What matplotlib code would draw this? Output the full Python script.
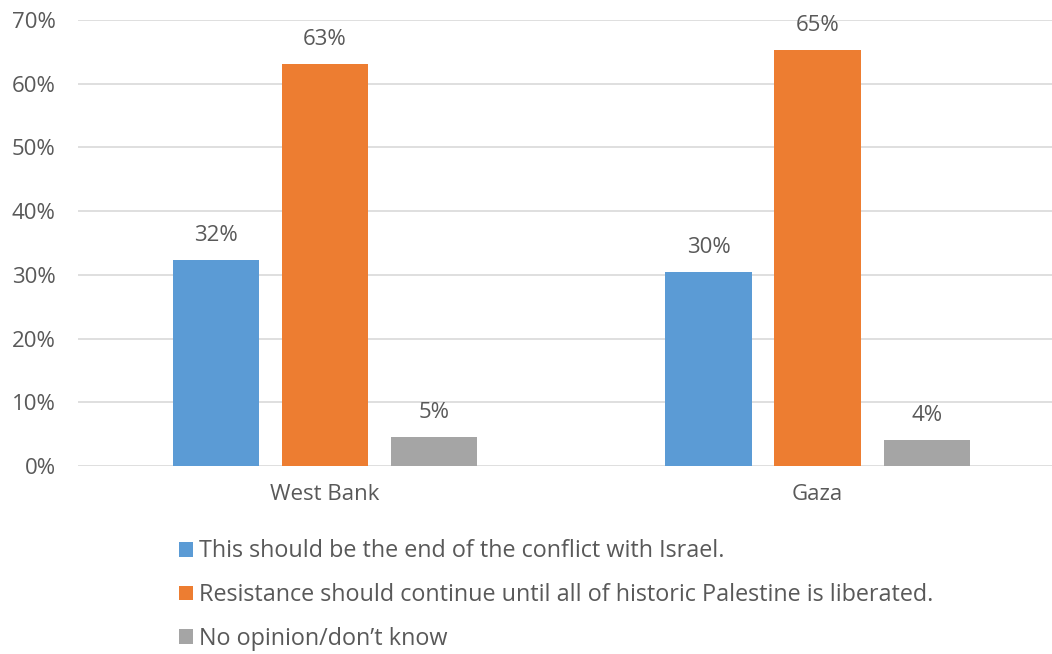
import numpy as np
import matplotlib.pyplot as plt
from matplotlib.patches import Patch

# values (percent)
regions = ["West Bank", "Gaza"]
series_names = [
    "This should be the end of the conflict with Israel.",
    "Resistance should continue until all of historic Palestine is liberated.",
    "No opinion/don\u2019t know",
]
end_conflict = [32.3, 30.4]
resistance = [63.1, 65.3]
no_opinion = [4.6, 4.1]
colors = ["#5B9BD5", "#ED7D31", "#A5A5A5"]

text_col = "#595959"
plt.rcParams["font.family"] = ["Open Sans", "DejaVu Sans"]

fig = plt.figure(figsize=(10.52, 6.54), dpi=100)
ax = fig.add_axes([78 / 1052, 188 / 654, (1052 - 78) / 1052, 446 / 654])

x = np.arange(len(regions))
width = 0.175
step = 0.2215
for i, (vals, col) in enumerate(zip([end_conflict, resistance, no_opinion], colors)):
    pos = x + (i - 1) * step
    ax.bar(pos, vals, width=width, color=col, zorder=3)
    for px, v in zip(pos, vals):
        ax.annotate(f"{v:.0f}%", (px, v), xytext=(0, 10), textcoords="offset points",
                    ha="center", va="bottom", fontsize=16, color=text_col)

ax.set_xlim(-0.5015, 1.476)
ax.set_ylim(0, 70)
ax.set_yticks(range(0, 71, 10))
ax.set_yticklabels([f"{t}%" for t in range(0, 71, 10)])
ax.set_xticks(x)
ax.set_xticklabels(regions)
ax.tick_params(axis="both", length=0, labelsize=16, colors=text_col)
ax.tick_params(axis="x", pad=13)
ax.tick_params(axis="y", pad=16)
ax.grid(axis="y", color="#D9D9D9", linewidth=1.2, zorder=0)
for s in ax.spines.values():
    s.set_visible(False)

handles = [Patch(facecolor=c) for c in colors]
fig.legend(handles, series_names, loc="upper left", bbox_to_anchor=(170 / 1052, 1 - 530 / 654),
           frameon=False, fontsize=16.8, labelcolor=text_col, handlelength=0.6, handleheight=0.6,
           handletextpad=0.25, labelspacing=0.85, borderaxespad=0)

fig.savefig("out.png", dpi=100)
